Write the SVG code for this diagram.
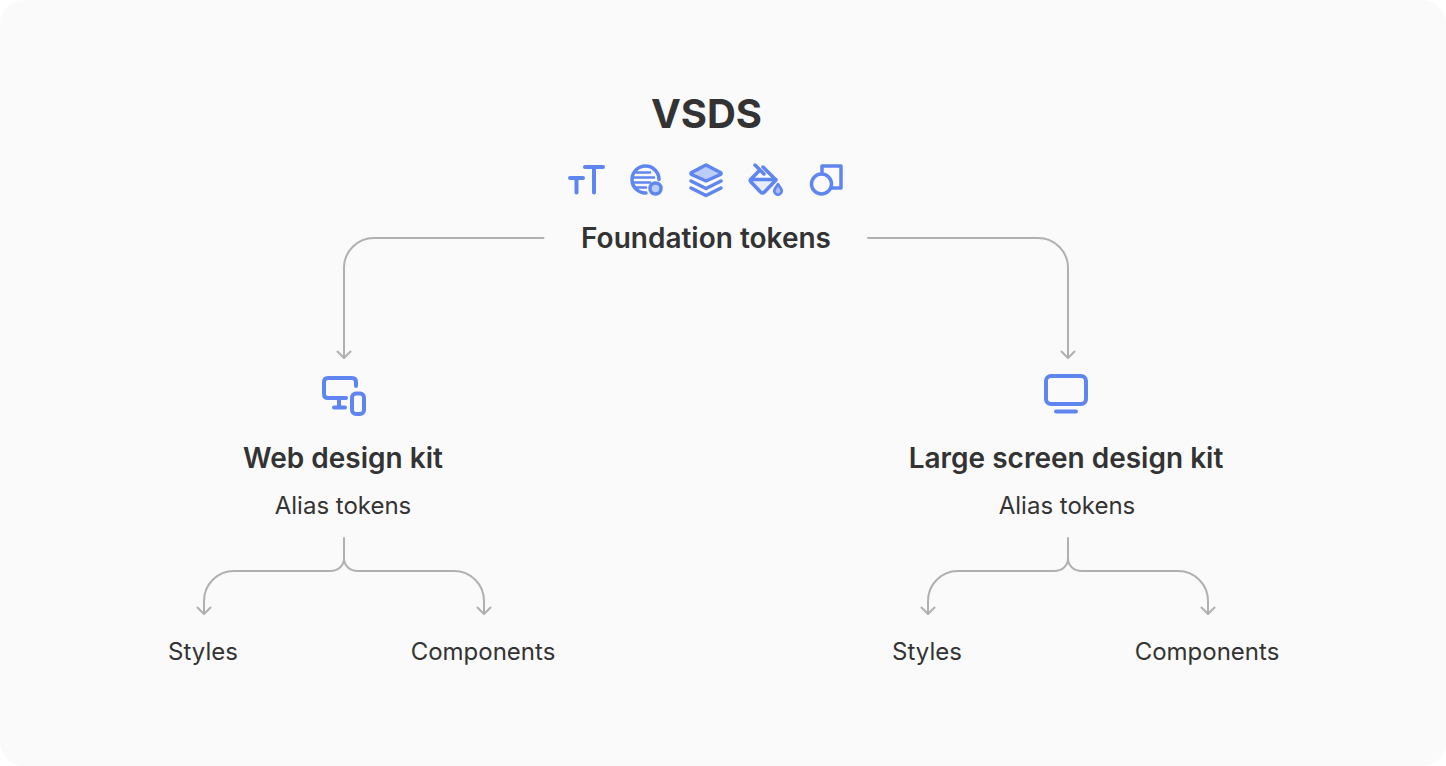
<svg xmlns="http://www.w3.org/2000/svg" width="1446" height="766" viewBox="0 0 1446 766">
<style>
text{font-family:Inter,"Liberation Sans",sans-serif;fill:#333333;text-anchor:middle}
.t{font-size:40px;font-weight:700}
.h{font-size:28px;font-weight:600}
.b{font-size:24px;font-weight:400}
.c{fill:none;stroke:#b0b0b0;stroke-width:2;stroke-linecap:round;stroke-linejoin:round}
.i{fill:none;stroke:#5f86f0;stroke-width:3.500;stroke-linecap:round;stroke-linejoin:round}
.w{stroke-width:4}
.n{fill:none;stroke:#5f86f0;stroke-width:2.500;stroke-linecap:round}
.f{fill:#bccdfb}
.p{fill:#e6ecfd;stroke:none}
</style>
<rect width="1446" height="766" fill="#ffffff"/>
<rect width="1446" height="766" rx="24" fill="#fafafa"/>
<g id="connectors">
<path class="c" d="M543.500 238H374A30 30 0 0 0 344 268V358" />
<path class="c" d="M868 238H1038A30 30 0 0 1 1068 268V358" />
<path class="c" d="M344 538V558" />
<path class="c" d="M344 558C344 566 338 571 330 571H234A30 30 0 0 0 204 601V614" />
<path class="c" d="M344 558C344 566 350 571 358 571H454A30 30 0 0 1 484 601V614" />
<path class="c" d="M1068 538V558" />
<path class="c" d="M1068 558C1068 566 1062 571 1054 571H958A30 30 0 0 0 928 601V614" />
<path class="c" d="M1068 558C1068 566 1074 571 1082 571H1178A30 30 0 0 1 1208 601V614" />
<path class="c" d="M337.500 351.500L344 358L350.500 351.500M1061.500 351.500L1068 358L1074.500 351.500M197.500 607.500L204 614L210.500 607.500M477.500 607.500L484 614L490.500 607.500M921.500 607.500L928 614L934.500 607.500M1201.500 607.500L1208 614L1214.500 607.500"/>
</g>
<g id="vsds"><text class="t" x="706.500" y="128">VSDS</text></g>
<g id="foundation-icons">
<g id="icon-type"><path class="i w" d="M570 178H583M576.500 178V192.500M585 167H603M594 167V192.500"/></g>
<g id="icon-blur">
<path class="i" d="M659 179.500A13.500 13.500 0 1 0 646 193"/>
<path class="n" d="M636 172.500H650M633 177.500H654M633 182.500H650M636 187.500H646"/>
<circle class="i f" cx="655.500" cy="188.500" r="5.500"/>
</g>
<g id="icon-layers">
<path class="i f" d="M706 165L720.500 172.500Q721.500 173.500 720.500 174.500L706 181L691.500 174.500Q690.500 173.500 691.500 172.500Z"/>
<path class="i" d="M691 181L706 188.500L721 181M691 188L706 195.500L721 188"/>
</g>
<g id="icon-paint">
<path class="p" d="M752 180H775L764 191.500Q762.500 193 761 191.500Z"/>
<path class="i" d="M755 165L764 174M763 167L776 180L764.500 192Q762.500 194 760.500 192L751 182Q749.500 180.500 751 179L759 171M751 179.500H776"/>
<path d="M778 184L781.200 189A3.700 3.700 0 1 1 774.800 189Z" fill="#a9bdf7" stroke="#5f86f0" stroke-width="2.500" stroke-linejoin="round"/>
</g>
<g id="icon-shapes">
<path class="i" d="M822 173V166H841V188H832"/>
<circle class="i" cx="821.500" cy="184" r="10"/>
</g>
</g>
<g id="foundation"><text class="h" x="706" y="248">Foundation tokens</text></g>
<g id="web-kit">
<g id="icon-devices"><path class="i w" d="M346 398H328Q324 398 324 394V382Q324 378 328 378H352Q356 378 356 382V386M339 398V407.500M334 407.500H345"/><rect class="i w" x="352" y="393.500" width="12" height="20.500" rx="4"/></g>
<text class="h" x="343" y="468">Web design kit</text>
<text class="b" x="343" y="514">Alias tokens</text>
</g>
<g id="web-styles"><text class="b" x="203" y="660">Styles</text></g>
<g id="web-components"><text class="b" x="483" y="660">Components</text></g>
<g id="large-kit">
<g id="icon-monitor"><rect class="i w" x="1046" y="376" width="40" height="28" rx="5"/><path class="i w" d="M1056 411.500H1076"/></g>
<text class="h" x="1066" y="468">Large screen design kit</text>
<text class="b" x="1067" y="514">Alias tokens</text>
</g>
<g id="large-styles"><text class="b" x="927" y="660">Styles</text></g>
<g id="large-components"><text class="b" x="1207" y="660">Components</text></g>
</svg>
